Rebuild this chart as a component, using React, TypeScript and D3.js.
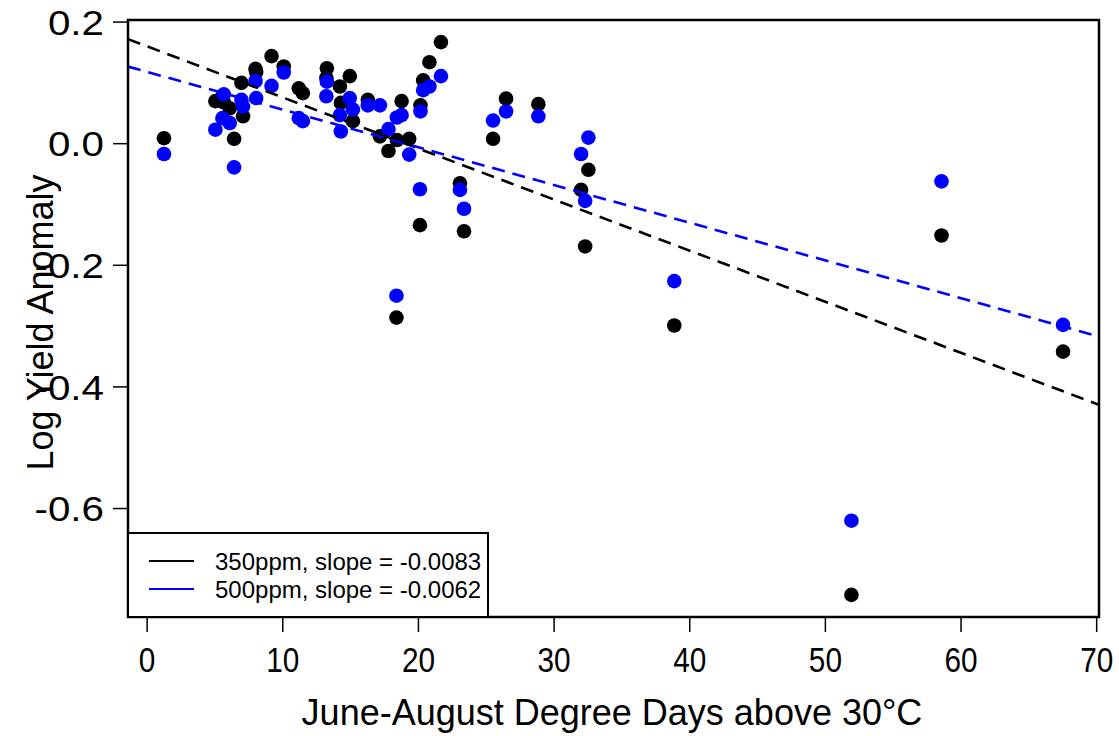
import React from "react";
import { scaleLinear, extent } from "d3";

// June-August degree days above 30C (one entry per year)
const degreeDays = [
  1.24, 5.03, 5.55, 5.65, 6.09, 6.41, 6.95, 7.07, 7.99, 8.04, 9.17, 10.07,
  11.18, 11.48, 13.25, 13.21, 14.21, 14.28, 14.94, 15.17, 16.27, 17.16, 17.79,
  18.41, 18.38, 18.76, 19.32, 20.15, 20.11, 20.35, 20.81, 21.66, 23.06, 23.36,
  25.5, 26.46, 28.84, 31.99, 32.29, 32.53, 38.86, 51.92, 58.56, 67.52
];

// log yield anomaly at 350ppm CO2
const yield350 = [
  0.009, 0.07, 0.078, 0.068, 0.058, 0.008, 0.1, 0.045, 0.123, 0.118, 0.144,
  0.127, 0.091, 0.083, 0.124, 0.108, 0.094, 0.067, 0.111, 0.037, 0.072, 0.012,
  -0.012, 0.006, -0.286, 0.07, 0.008, 0.063, -0.134, 0.104, 0.134, 0.167,
  -0.065, -0.144, 0.008, 0.074, 0.065, -0.076, -0.169, -0.043, -0.299, -0.742,
  -0.151, -0.342
];

// log yield anomaly at 500ppm CO2
const yield500 = [
  -0.017, 0.023, 0.042, 0.081, 0.034, -0.039, 0.072, 0.061, 0.103, 0.075,
  0.095, 0.117, 0.042, 0.037, 0.102, 0.078, 0.047, 0.02, 0.075, 0.056, 0.063,
  0.063, 0.024, 0.043, -0.25, 0.047, -0.018, 0.053, -0.075, 0.088, 0.094,
  0.111, -0.076, -0.107, 0.038, 0.053, 0.045, -0.017, -0.094, 0.01, -0.226,
  -0.62, -0.062, -0.298
];

const seriesNames = ["350ppm", "500ppm"];
const seriesColors = ["#000000", "#0000ff"];
const fitIntercepts = [0.16, 0.118];
const fitSlopes = [-0.0084, -0.0062];
const slopeLabels = ["-0.0083", "-0.0062"];

const xTicks = [0, 10, 20, 30, 40, 50, 60, 70];
const yTicks = [0.2, 0.0, -0.2, -0.4, -0.6];

const FONT = "'Liberation Sans', Arial, sans-serif";

// R-style axis range: data extent padded by 4% on each side
function padded(values: number[]) {
  const [lo, hi] = extent(values) as [number, number];
  const p = (hi - lo) * 0.04;
  return [lo - p, hi + p];
}

function ScatterPlot() {
  const box = { left: 128, right: 1099, top: 20, bottom: 617 };

  const xScale = scaleLinear()
    .domain(padded(degreeDays))
    .range([box.left, box.right]);

  const yScale = scaleLinear()
    .domain(padded(yield350.concat(yield500)))
    .range([box.bottom, box.top]);

  const series = [yield350, yield500];
  const [x0, x1] = xScale.domain();

  return (
    <g style={{ fontFamily: FONT }}>
      <defs>
        <clipPath id="plot-area">
          <rect
            x={box.left}
            y={box.top}
            width={box.right - box.left}
            height={box.bottom - box.top}
          />
        </clipPath>
      </defs>

      {series.map((ys, s) => (
        <g key={seriesNames[s]} fill={seriesColors[s]}>
          {degreeDays.map((d, i) => (
            <circle key={i} cx={xScale(d)} cy={yScale(ys[i])} r={7.3} />
          ))}
        </g>
      ))}

      <g clipPath="url(#plot-area)">
        {fitIntercepts.map((a, s) => (
          <line
            key={s}
            x1={xScale(x0)}
            y1={yScale(a + fitSlopes[s] * x0)}
            x2={xScale(x1)}
            y2={yScale(a + fitSlopes[s] * x1)}
            stroke={seriesColors[s]}
            strokeWidth={2.6}
            strokeDasharray="13,8"
          />
        ))}
      </g>

      <rect
        x={box.left}
        y={box.top}
        width={box.right - box.left}
        height={box.bottom - box.top}
        fill="none"
        stroke="#000"
        strokeWidth={2.5}
      />

      {/* y axis */}
      {yTicks.map(t => (
        <g key={t}>
          <line
            x1={box.left - 15}
            x2={box.left}
            y1={yScale(t)}
            y2={yScale(t)}
            stroke="#000"
            strokeWidth={1.5}
          />
          <text
            transform={`translate(104, ${yScale(t)}) scale(1.12, 1)`}
            textAnchor="end"
            dominantBaseline="central"
            fontSize={36}
          >
            {t.toFixed(1)}
          </text>
        </g>
      ))}
      <text
        transform={`translate(40, ${(box.top + box.bottom) / 2 + 4}) rotate(-90)`}
        textAnchor="middle"
        dominantBaseline="central"
        fontSize={36}
      >
        Log Yield Anomaly
      </text>

      {/* x axis */}
      {xTicks.map(t => (
        <g key={t}>
          <line
            x1={xScale(t)}
            x2={xScale(t)}
            y1={box.bottom}
            y2={box.bottom + 15}
            stroke="#000"
            strokeWidth={1.5}
          />
          <text
            transform={`translate(${xScale(t)}, 672) scale(0.85, 1)`}
            textAnchor="middle"
            fontSize={35}
          >
            {t}
          </text>
        </g>
      ))}
      <text x={612} y={725} textAnchor="middle" fontSize={36}>
        June-August Degree Days above 30°C
      </text>

      {/* legend */}
      <g>
        <rect
          x={box.left}
          y={533}
          width={360}
          height={box.bottom - 533}
          fill="#fff"
          stroke="#000"
          strokeWidth={2}
        />
        {seriesNames.map((name, s) => (
          <g key={name} transform={`translate(0, ${561 + s * 28})`}>
            <line
              x1={149}
              x2={194}
              y1={0}
              y2={0}
              stroke={seriesColors[s]}
              strokeWidth={2}
            />
            <text x={215} y={0} dominantBaseline="central" fontSize={24}>
              {`${name}, slope = ${slopeLabels[s]}`}
            </text>
          </g>
        ))}
      </g>
    </g>
  );
}

export default function App() {
  const width = 1119,
    height = 736;

  return (
    <svg
      style={{ position: "absolute", left: 0, top: 0, background: "#fff" }}
      width={width}
      height={height}
    >
      <ScatterPlot />
    </svg>
  );
}
